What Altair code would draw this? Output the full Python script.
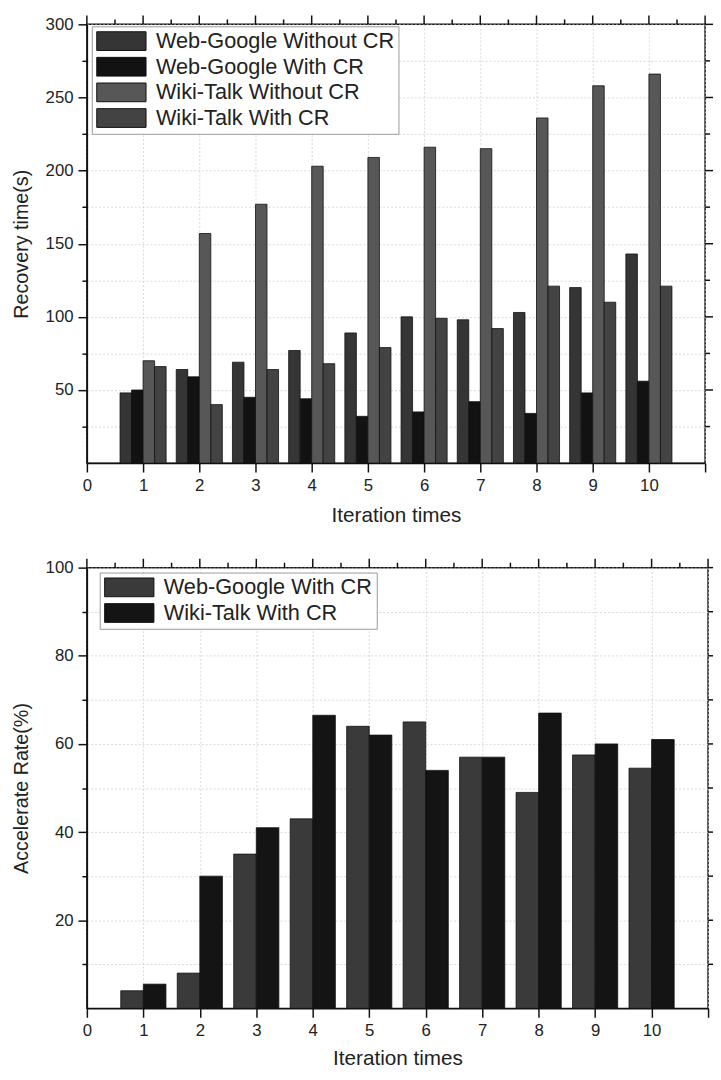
import altair as alt
import pandas as pd

# ---------------- data ----------------
iterations = [1, 2, 3, 4, 5, 6, 7, 8, 9, 10]

series_top = ["Web-Google Without CR", "Web-Google With CR",
              "Wiki-Talk Without CR", "Wiki-Talk With CR"]
wg_without = [48, 64, 69, 77, 89, 100, 98, 103, 120, 143]
wg_with = [50, 59, 45, 44, 32, 35, 42, 34, 48, 56]
wt_without = [70, 157, 177, 203, 209, 216, 215, 236, 258, 266]
wt_with = [66, 40, 64, 68, 79, 99, 92, 121, 110, 121]
colors_top = ["#353535", "#121212", "#575757", "#434343"]

series_bottom = ["Web-Google With CR", "Wiki-Talk With CR"]
rate_wg = [4.0, 8.0, 35.0, 43.0, 64.0, 65.0, 57.0, 49.0, 57.5, 54.5]
rate_wt = [5.5, 30.0, 41.0, 66.5, 62.0, 54.0, 57.0, 67.0, 60.0, 61.0]
colors_bottom = ["#3a3a3a", "#141414"]

# tick positions
x_ticks = [i / 2 for i in range(0, 23)]
x_major = list(range(0, 12))
x_minor = [i + 0.5 for i in range(0, 11)]
y_ticks_top = list(range(25, 301, 25))
y_major_top = list(range(50, 301, 50))
y_minor_top = list(range(25, 300, 50))
y_ticks_bottom = list(range(10, 101, 10))
y_major_bottom = list(range(20, 101, 20))
y_minor_bottom = list(range(10, 100, 20))

FONT = "Liberation Sans"
RECT = "M-2.5,-0.95H2.5V0.95H-2.5Z"
INK = "#111"

rows = []
for k, (name, vals) in enumerate(zip(series_top, [wg_without, wg_with, wt_without, wt_with])):
    for it, v in zip(iterations, vals):
        rows.append({"iteration": it, "series": name, "k": k, "value": v})
top_df = pd.DataFrame(rows)

rows = []
for k, (name, vals) in enumerate(zip(series_bottom, [rate_wg, rate_wt])):
    for it, v in zip(iterations, vals):
        rows.append({"iteration": it, "series2": name, "k": k, "value": v})
bot_df = pd.DataFrame(rows)


def tick_size(step):
    return {"condition": {"test": f"datum.value % {step} === 0", "value": 9}, "value": 5}


def main_x(title_pad):
    return alt.Axis(values=x_ticks, title="Iteration times", format="d",
                    labelExpr="(datum.value % 1 === 0 && datum.value <= 10) ? datum.label : ''",
                    tickSize=tick_size(1), grid=True, labelOverlap=False, labelFlush=False,
                    labelPadding=6, titlePadding=title_pad, minExtent=0)


def main_y(vals, step, title):
    return alt.Axis(values=vals, title=title,
                    labelExpr=f"datum.value % {step} === 0 ? datum.label : ''",
                    tickSize=tick_size(step), grid=True, labelOverlap=False, labelFlush=False,
                    labelPadding=5, titlePadding=14, minExtent=0)


def legend(lx, ly):
    return alt.Legend(title=None, orient="none", legendX=lx, legendY=ly,
                      symbolType=RECT, symbolSize=400, symbolOffset=15, labelOffset=24)


def mirror_ticks(xscale, yscale, xaxis, yaxis, xmaj, xmin, ymaj, ymin, xmax, ymax):
    """Outward ticks along the top and right frame, placed through the scales."""
    layers = []
    for vals, length in ((xmaj, 9), (xmin, 5)):
        layers.append(
            alt.Chart(pd.DataFrame({"t": vals})).mark_rule(
                color=INK, strokeWidth=1.5, y2Offset=-length).encode(
                x=alt.X("t:Q", scale=xscale, axis=xaxis),
                y=alt.YDatum(ymax, scale=yscale, axis=yaxis),
                y2=alt.datum(ymax),
            )
        )
    for vals, length in ((ymaj, 9), (ymin, 5)):
        layers.append(
            alt.Chart(pd.DataFrame({"t": vals})).mark_rule(
                color=INK, strokeWidth=1.5, x2Offset=length).encode(
                y=alt.Y("t:Q", scale=yscale, axis=yaxis),
                x=alt.XDatum(xmax, scale=xscale, axis=xaxis),
                x2=alt.datum(xmax),
            )
        )
    return layers


xscale = alt.Scale(domain=[0, 11], nice=False, zero=False)

# ---------------- top chart ----------------
top_base = alt.Chart(top_df).transform_calculate(
    x0="datum.iteration - 0.41 + datum.k * 0.205",
    x1="datum.iteration - 0.41 + (datum.k + 1) * 0.205",
)
yscale_top = alt.Scale(domain=[0, 300], nice=False)
xaxis_top = main_x(11)
yaxis_top = main_y(y_ticks_top, 50, "Recovery time(s)")

top_bars = top_base.mark_bar(stroke=INK, strokeWidth=0.8).encode(
    x=alt.X("x0:Q", scale=xscale, axis=xaxis_top),
    x2="x1:Q",
    y=alt.Y("value:Q", scale=yscale_top, axis=yaxis_top),
    y2=alt.datum(0),
    color=alt.Color("series:N",
                    scale=alt.Scale(domain=series_top, range=colors_top),
                    legend=legend(5, 2)),
)
top = alt.layer(
    top_bars,
    *mirror_ticks(xscale, yscale_top, xaxis_top, yaxis_top,
                  x_major, x_minor, y_major_top, y_minor_top, 11, 300),
).properties(width=627, height=445)

# ---------------- bottom chart ----------------
bot_base = alt.Chart(bot_df).transform_calculate(
    x0="datum.iteration - 0.4 + datum.k * 0.4",
    x1="datum.iteration - 0.4 + (datum.k + 1) * 0.4",
)
yscale_bot = alt.Scale(domain=[0, 100], nice=False)
xaxis_bot = main_x(9)
yaxis_bot = main_y(y_ticks_bottom, 20, "Accelerate Rate(%)")

bot_bars = bot_base.mark_bar(stroke=INK, strokeWidth=0.8).encode(
    x=alt.X("x0:Q", scale=xscale, axis=xaxis_bot),
    x2="x1:Q",
    y=alt.Y("value:Q", scale=yscale_bot, axis=yaxis_bot),
    y2=alt.datum(0),
    color=alt.Color("series2:N",
                    scale=alt.Scale(domain=series_bottom, range=colors_bottom),
                    legend=legend(13, 5)),
)
bottom = alt.layer(
    bot_bars,
    *mirror_ticks(xscale, yscale_bot, xaxis_bot, yaxis_bot,
                  x_major, x_minor, y_major_bottom, y_minor_bottom, 11, 100),
).properties(width=630, height=447)

chart = alt.vconcat(top, bottom, spacing=31).resolve_scale(
    color="independent", x="independent", y="independent"
).properties(
    padding={"left": 2, "top": -2, "right": -6, "bottom": -1}
).configure_view(stroke=INK, strokeWidth=1.5).configure_axis(
    domainColor=INK, domainWidth=1.5, tickColor=INK, tickWidth=1.5,
    labelFont=FONT, labelFontSize=17, labelColor="#222",
    titleFont=FONT, titleFontSize=20, titleFontWeight="normal", titleColor="#222",
    gridColor="#cfcfcf", gridDash=[2, 2], gridWidth=0.8,
).configure_axisX(titleFontSize=21).configure_legend(
    labelFont=FONT, labelFontSize=22, labelColor="#222", labelLimit=400,
    symbolStrokeColor=INK, symbolStrokeWidth=1, symbolOpacity=1,
    rowPadding=2, padding=4,
    strokeColor="#999", fillColor="white",
)

chart.save("out.html", embed_options={"renderer": "svg", "actions": False})
